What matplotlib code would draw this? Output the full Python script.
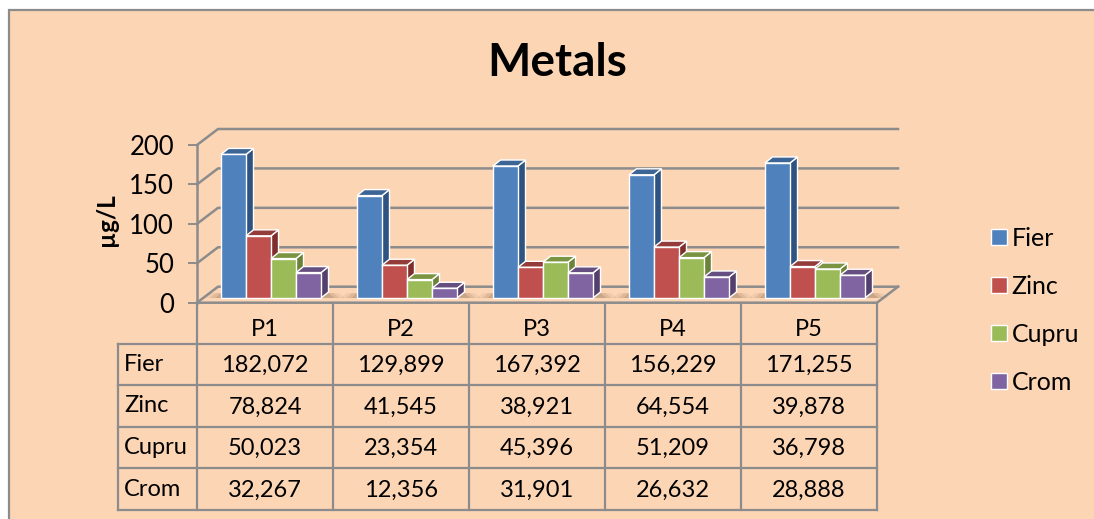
import matplotlib
matplotlib.use("Agg")
import matplotlib.pyplot as plt
from matplotlib.patches import Rectangle

plt.rcParams['font.family'] = ['Lato', 'DejaVu Sans']

#-- data
places = ['P1', 'P2', 'P3', 'P4', 'P5']
fier = [182.072, 129.899, 167.392, 156.229, 171.255]
zinc = [78.824, 41.545, 38.921, 64.554, 39.878]
cupru = [50.023, 23.354, 45.396, 51.209, 36.798]
crom = [32.267, 12.356, 31.901, 26.632, 28.888]
series_names = ['Fier', 'Zinc', 'Cupru', 'Crom']
series_values = [fier, zinc, cupru, crom]
y_ticks = [0, 50, 100, 150, 200]

#-- colours: front, side, top
colours = [('#4F81BD', '#2F5380', '#3C6494'),
           ('#C0504D', '#7E2F2D', '#943C3A'),
           ('#9BBB59', '#6B8238', '#7A9442'),
           ('#8064A2', '#53406D', '#654E80')]
bg = '#FCD5B5'
grey = '#8C8C8C'

W, H = 1094, 519
fig = plt.figure(figsize=(W / 100, H / 100), dpi=100, facecolor='white')

#-- overlay in pixels, for the frame, the table and the title
pix = fig.add_axes([0, 0, 1, 1], zorder=0)
pix.set_xlim(0, W)
pix.set_ylim(H, 0)
pix.axis('off')
pix.add_patch(Rectangle((9, 10), W, H, facecolor=bg, edgecolor=grey, lw=1.6))
pix.text(557, 63, 'Metals', fontsize=33, fontweight='bold', ha='center', va='center')
pix.text(107, 220, 'µg/L', fontsize=17.5, fontweight='bold', rotation=90, ha='center', va='center')

#-- front plane of the chart
x0, x1, y0, y1 = 197, 877, 302.7, 145
ax = fig.add_axes([x0 / W, 1 - y0 / H, (x1 - x0) / W, (y0 - y1) / H], zorder=1)
ax.patch.set_alpha(0)
ax.set_xlim(0, 5)
ax.set_ylim(0, 200)
ux = 5 / (x1 - x0)    # data per pixel
uy = 200 / (y0 - y1)

#-- walls and floor
dx, dy = 21 * ux, 16 * uy
for t in y_ticks:
    ax.plot([0, dx, 5 + dx], [t, t + dy, t + dy], color=grey, lw=1.8, clip_on=False, zorder=1)
ax.plot([0, 5, 5 + dx], [0, 0, dy], color=grey, lw=1.8, clip_on=False, zorder=1)

#-- bars
bar_w = 25 * ux
base_x = 6 * ux
base_y = 4.7 * uy
depth_x = 7.5 * ux
depth_y = 6 * uy
zo = 3
handles = []
for s, values in enumerate(series_values):
    for i, v in enumerate(values):
        left = i + 0.5 + base_x + (s - 2) * bar_w
        right = left + bar_w
        top = v + base_y
        # shadow on the floor
        if s == 0:
            for grow, alpha in [(16, 0.1), (11, 0.16), (6, 0.24)]:
                g = grow * ux
                sl = left - g
                sr = left + 4 * bar_w + depth_x + g
                ax.fill([sl, sr, sr - 6 * ux, sl + 6 * ux], [base_y, base_y, base_y + 5 * uy, base_y + 5 * uy],
                        color='#8A6A50', alpha=alpha, lw=0, clip_on=False, zorder=2)
        ax.fill([right, right + depth_x, right + depth_x, right],
                [base_y, base_y + depth_y, top + depth_y, top],
                facecolor=colours[s][1], edgecolor='white', lw=1, clip_on=False, zorder=zo + s)
        ax.fill([left, left + depth_x, right + depth_x, right],
                [top, top + depth_y, top + depth_y, top],
                facecolor=colours[s][2], edgecolor='white', lw=1, clip_on=False, zorder=zo + s)
    b = ax.bar([i + 0.5 + base_x + (s - 2) * bar_w for i in range(5)], values, width=bar_w, bottom=base_y,
               align='edge', color=colours[s][0], edgecolor='white', lw=1, clip_on=False,
               zorder=zo + s + 0.5, label=series_names[s])
    handles.append(b)

for name, sp in ax.spines.items():
    sp.set_visible(name == 'left')
ax.spines['left'].set_color(grey)
ax.spines['left'].set_linewidth(1.8)
ax.set_xticks([])
ax.set_yticks(y_ticks)
ax.tick_params(axis='y', length=6.5, width=1.4, color=grey, labelsize=18.5, pad=10)

#-- legend
fig.legend(handles=handles, loc='center left', bbox_to_anchor=(991 / W, 1 - 310 / H), frameon=False,
           fontsize=18, handlelength=0.62, handleheight=0.62, handletextpad=0.2, labelspacing=1.0,
           borderpad=0, borderaxespad=0)

#-- data table under the chart
col_x = [197 + 136 * i for i in range(6)]
row_y = [302.7, 343.5, 385.2, 426.8, 468.4, 510]
lab_x = 118
for i, x in enumerate(col_x):
    pix.plot([x, x], [row_y[0], row_y[-1]], color=grey, lw=1.6)
pix.plot([lab_x, lab_x], [row_y[1], row_y[-1]], color=grey, lw=1.6)
for j, y in enumerate(row_y[1:]):
    pix.plot([lab_x, col_x[-1]], [y, y], color=grey, lw=1.6)
for i, p in enumerate(places):
    pix.text(col_x[i] + 68, 330, p, fontsize=17, ha='center', va='center')
for s, values in enumerate(series_values):
    yc = (row_y[s + 1] + row_y[s + 2]) / 2
    pix.text(124, yc, series_names[s], fontsize=17, ha='left', va='center')
    for i, v in enumerate(values):
        pix.text(col_x[i] + 68, yc + 1, f'{v:.3f}'.replace('.', ','), fontsize=17, ha='center', va='center')

fig.savefig('out.png', dpi=100)
